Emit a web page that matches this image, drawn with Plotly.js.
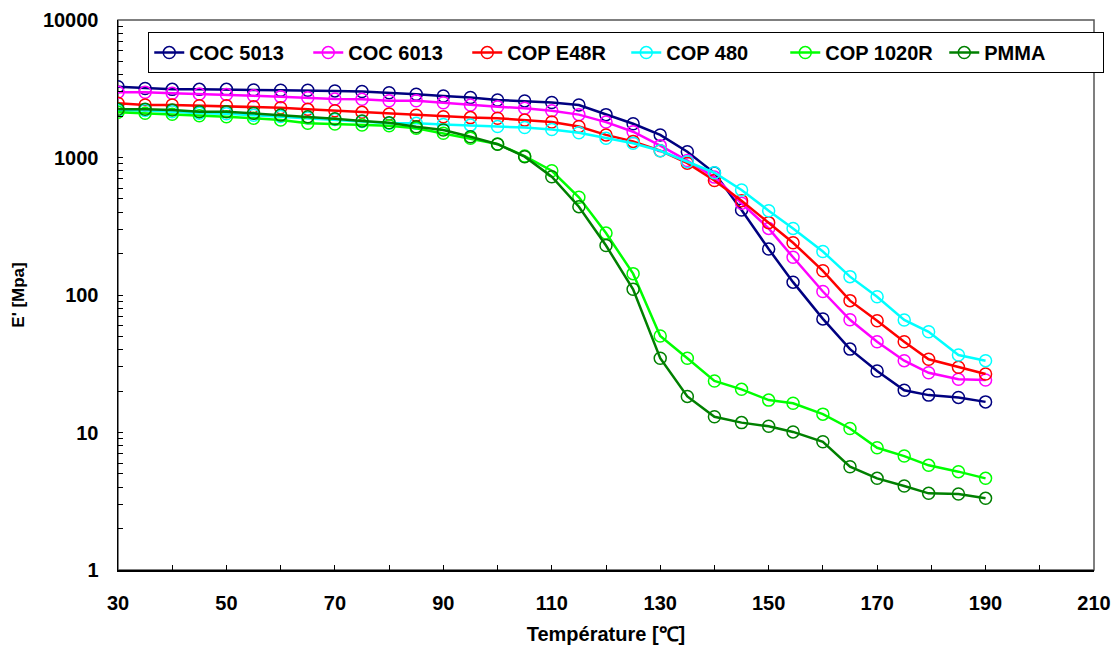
<!DOCTYPE html>
<html>
<head>
<meta charset="utf-8">
<script src="https://cdn.plot.ly/plotly-3.0.1.min.js"></script>
<style>
html,body{margin:0;padding:0;background:#fff;}
#chart{width:1118px;height:648px;}
</style>
</head>
<body>
<div id="chart"></div>
<script>
// Temperatures (°C)
var temperature = [30,35,40,45,50,55,60,65,70,75,80,85,90,95,100,105,110,115,120,125,130,135,140,145,150,154.5,160,165,170,175,179.5,185,190];

// Storage modulus E' (MPa)
var coc5013 = [3270,3180,3130,3130,3130,3100,3080,3080,3050,3020,2960,2880,2800,2730,2620,2580,2510,2410,2050,1760,1460,1100,770,415,216,124,67,40.4,28,20.3,18.7,18.0,16.7];
var coc6013 = [2980,2980,2930,2900,2870,2810,2770,2720,2660,2650,2590,2590,2500,2410,2340,2280,2190,2050,1810,1540,1220,950,720,465,305,188,106,66,45.7,33.3,27.2,24.4,24.1];
var copE48R = [2480,2410,2410,2380,2380,2340,2300,2240,2190,2130,2070,2030,1980,1950,1930,1870,1810,1680,1460,1310,1120,910,680,485,336,240,150,91,65,45.7,34.1,29.8,26.6];
var cop480  = [2200,2200,2150,2100,2080,2030,1990,1940,1890,1830,1775,1775,1740,1720,1680,1650,1600,1514,1380,1268,1120,931,775,580,410,305,207,136,97,65.8,54,36.6,33.3];
var cop1020R= [2133,2096,2060,2013,1981,1928,1874,1774,1753,1722,1702,1630,1499,1380,1254,1025,801,514,282,143,50.4,34.7,23.7,20.6,17.2,16.3,13.6,10.7,7.74,6.74,5.77,5.19,4.64];
var pmma    = [2245,2245,2215,2153,2153,2096,2037,1981,1915,1842,1790,1674,1585,1417,1250,1014,725,439,229,110,34.7,18.3,13.0,11.8,11.1,10.1,8.56,5.64,4.64,4.08,3.61,3.57,3.32];

var seriesNames  = ["COC 5013","COC 6013","COP E48R","COP 480","COP 1020R","PMMA"];
var seriesValues = [coc5013, coc6013, copE48R, cop480, cop1020R, pmma];
var seriesColors = ["#000080","#FF00FF","#FF0000","#00FFFF","#00FF00","#008000"];

var yTickVals = [1,10,100,1000,10000];
var yTickText = ["1","10","100","1000","10000"];
var xTickVals = [30,50,70,90,110,130,150,170,190,210];

var FONT = "Liberation Sans, Arial, sans-serif";

var traces = seriesNames.map(function(name, i){
  return {
    type: "scatter",
    mode: "lines+markers",
    name: name,
    x: temperature,
    y: seriesValues[i],
    line: {color: seriesColors[i], width: 2.5},
    marker: {symbol: "circle-open", size: 12, color: seriesColors[i], line: {width: 1.5, color: seriesColors[i]}}
  };
});

var layout = {
  width: 1118,
  height: 648,
  paper_bgcolor: "#ffffff",
  plot_bgcolor: "#ffffff",
  margin: {l: 118, r: 24, t: 20, b: 78},
  font: {family: FONT, size: 20, color: "#000"},
  showlegend: true,
  legend: {
    orientation: "h",
    x: 0.031, xanchor: "left",
    y: 0.978, yanchor: "top",
    bgcolor: "#ffffff",
    bordercolor: "#000000",
    borderwidth: 1,
    font: {family: FONT, size: 20, color: "#000", weight: "bold"},
    itemwidth: 30,
    entrywidth: 114,
    tracegroupgap: 0
  },
  xaxis: {
    range: [30, 210],
    tickvals: xTickVals,
    ticks: "inside",
    ticklen: 5,
    tickwidth: 1,
    tickcolor: "#000",
    minor: {dtick: 10, ticks: "inside", ticklen: 5, tickcolor: "#000"},
    showgrid: false,
    zeroline: false,
    showline: true,
    linecolor: "#000",
    linewidth: 1.5,
    ticklabelstandoff: 14,
    tickfont: {family: FONT, size: 20, weight: "bold"},
    title: {text: "Température [℃]", font: {family: FONT, size: 20, weight: "bold"}, standoff: 14}
  },
  yaxis: {
    type: "log",
    range: [0, 4],
    tickvals: yTickVals,
    ticktext: yTickText,
    ticks: "inside",
    ticklen: 5,
    tickcolor: "#000",
    minor: {dtick: "D1", ticks: "inside", ticklen: 5, tickcolor: "#000"},
    showgrid: false,
    zeroline: false,
    showline: true,
    linecolor: "#000",
    linewidth: 1.5,
    ticklabelstandoff: 14,
    tickfont: {family: FONT, size: 20, weight: "bold"},
    title: {text: "E' [Mpa]", font: {family: FONT, size: 17, weight: "bold"}, standoff: 14}
  },
  shapes: [{
    type: "rect", xref: "paper", yref: "paper", x0: 0, x1: 1, y0: 0, y1: 1,
    line: {color: "#555555", width: 1.5}, layer: "below"
  }]
};

Plotly.newPlot("chart", traces, layout, {displayModeBar: false, staticPlot: true});
</script>
</body>
</html>
